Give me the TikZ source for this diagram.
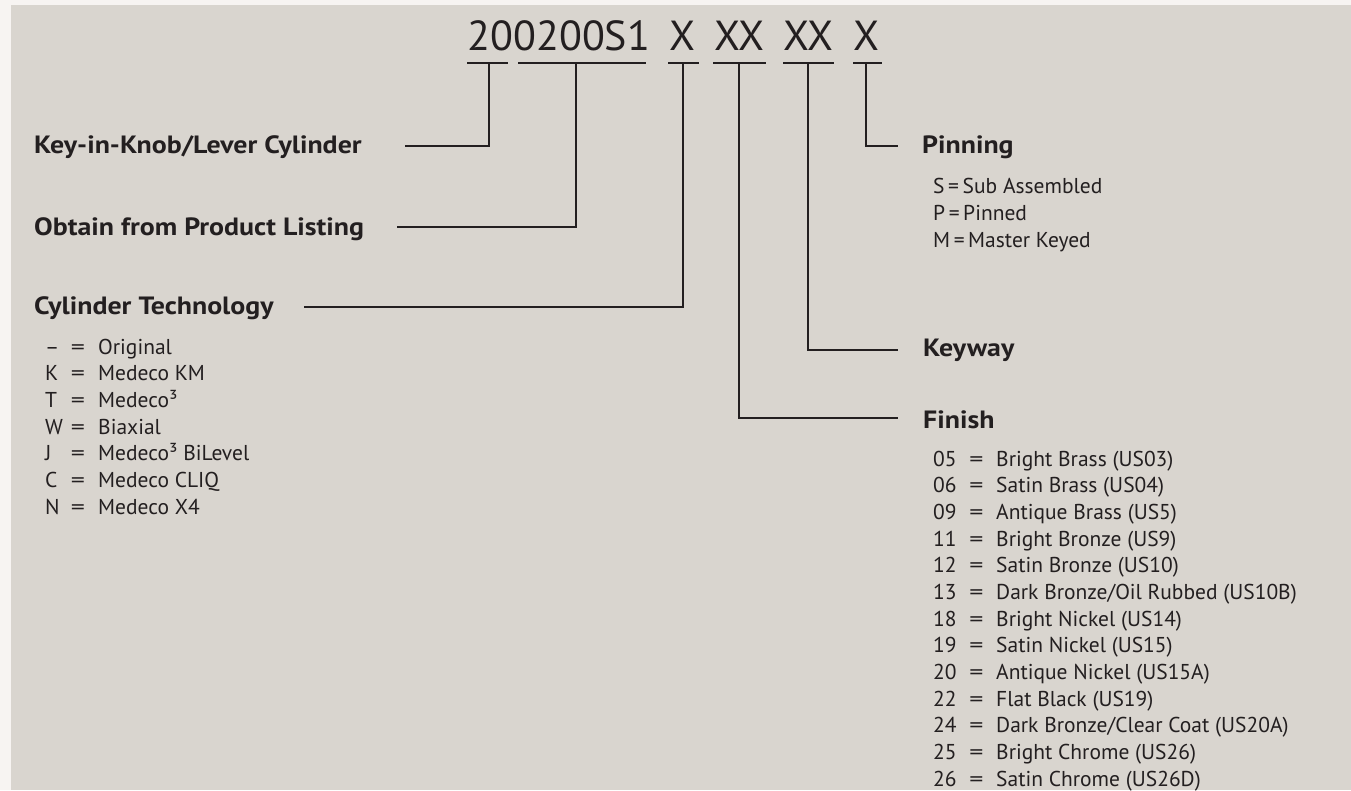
\documentclass[tikz,border=0pt]{standalone}
\usepackage{fontspec}
\setmainfont{PT Sans}
\newfontfamily\lblfont{PT Sans}[FakeStretch=1.115]
\definecolor{ink}{HTML}{231F20}
\definecolor{panel}{HTML}{D9D5CF}
\definecolor{outerbg}{HTML}{F7F4F2}
\tikzset{
  codetxt/.style={anchor=base west, inner sep=0pt, text=ink, font=\fontsize{42}{42}\selectfont},
  lbl/.style={anchor=base west, inner sep=0pt, text=ink, font=\lblfont\fontsize{25}{25}\selectfont\bfseries},
  itm/.style={anchor=base west, inner sep=0pt, text=ink, font=\fontsize{21.5}{21.5}\selectfont},
  eqs/.style={anchor=base, inner sep=0pt, text=ink, font=\fontsize{21.5}{21.5}\selectfont, xscale=1.3},
  conn/.style={draw=ink, line width=2pt},
  uline/.style={draw=ink, line width=2.2pt}
}
\begin{document}
\begin{tikzpicture}[x=1pt,y=-1pt]
\useasboundingbox (0,0) rectangle (1351,790);
\fill[outerbg] (0,0) rectangle (1351,790);
\fill[panel] (11,5) rectangle (1351,790);

% code
\node[codetxt] (c1) at (467,50) {20};
\node[codetxt] (c2) at (c1.base east) {0200S1};
\node[codetxt] (c3) at (669,50) {X};
\node[codetxt] (c4) at (714,50) {XX};
\node[codetxt] (c5) at (783,50) {XX};
\node[codetxt] (c6) at (853,50) {X};

% underlines
\draw[uline] (467,63) -- (508,63);
\draw[uline] (518,63) -- (646,63);
\draw[uline] (668,63) -- (699,63);
\draw[uline] (713,63) -- (766,63);
\draw[uline] (783,63) -- (834,63);
\draw[uline] (853,63) -- (882,63);
\coordinate (t1) at (489,63);
\coordinate (t2) at (576,63);
\coordinate (t3) at (683,63);
\coordinate (t4) at (739,63);
\coordinate (t5) at (808,63);
\coordinate (t6) at (866,63);

% labels
\node[lbl] (l1) at (34,153) {Key-in-Knob/Lever Cylinder};
\node[lbl] (l2) at (34,235) {Obtain from Product Listing};
\node[lbl] (l3) at (34,314) {Cylinder Technology};
\node[lbl] (l4) at (922,153) {Pinning};
\node[lbl] (l5) at (923,356) {Keyway};
\node[lbl] (l6) at (923,428) {Finish};

\coordinate (e1) at (405,145.5);
\coordinate (e2) at (397,227);
\coordinate (e3) at (304,307);
\coordinate (e4) at (898,146);
\coordinate (e5) at (898,349.5);
\coordinate (e6) at (898,418);

\draw[conn] (t1) |- (e1);
\draw[conn] (t2) |- (e2);
\draw[conn] (t3) |- (e3);
\draw[conn] (t6) |- (e4);
\draw[conn] (t5) |- (e5);
\draw[conn] (t4) |- (e6);

% cylinder technology list
\foreach \k/\d [count=\i from 0] in {{–}/Original, K/Medeco KM, T/{Medeco³}, W/Biaxial, J/{Medeco³ BiLevel}, C/Medeco CLIQ, N/Medeco X4}{
  \node[itm] (ck\i) at (45,354+26.67*\i) {\k};
  \node[eqs] (ce\i) at (78,354+26.67*\i) {=};
  \node[itm] (cd\i) at (98,354+26.67*\i) {\d};
}

% pinning list
\node[itm] (p1) at (933,193.7) {S\,=\,Sub Assembled};
\node[itm] (p2) at (933,220.5) {P\,=\,Pinned};
\node[itm] (p3) at (933,247.2) {M\,=\,Master Keyed};

% finish list
\foreach \k/\d [count=\i from 0] in {05/{Bright Brass (US03)}, 06/{Satin Brass (US04)}, 09/{Antique Brass (US5)}, 11/{Bright Bronze (US9)}, 12/{Satin Bronze (US10)}, 13/{Dark Bronze/Oil Rubbed (US10B)}, 18/{Bright Nickel (US14)}, 19/{Satin Nickel (US15)}, 20/{Antique Nickel (US15A)}, 22/{Flat Black (US19)}, 24/{Dark Bronze/Clear Coat (US20A)}, 25/{Bright Chrome (US26)}, 26/{Satin Chrome (US26D)}}{
  \node[itm] (fk\i) at (933,466+26.67*\i) {\k};
  \node[eqs] (fe\i) at (976.5,466+26.67*\i) {=};
  \node[itm] (fd\i) at (996,466+26.67*\i) {\d};
}
\end{tikzpicture}
\end{document}
